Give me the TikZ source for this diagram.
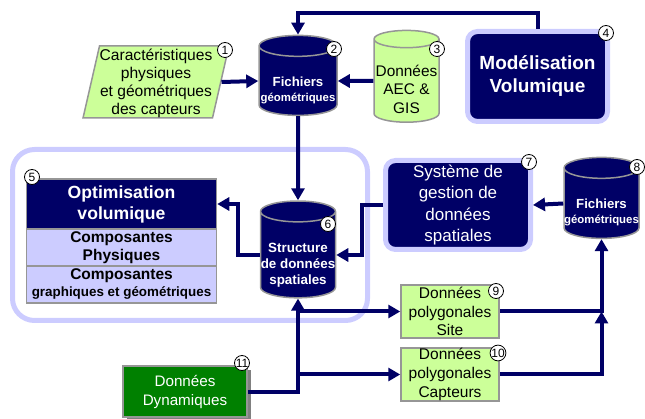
\documentclass[tikz,border=0pt]{standalone}
\usepackage{fontspec}
\setmainfont{Liberation Sans}
\usepackage{tikz}
\usetikzlibrary{shapes,arrows,arrows.meta,shadows,positioning,fit}

\definecolor{navy}{RGB}{0,0,102}
\definecolor{lavender}{RGB}{204,204,255}
\definecolor{lightgreen}{RGB}{204,255,153}
\definecolor{darkgreen}{RGB}{0,128,0}
\definecolor{bordergray}{RGB}{150,150,150}
\newcommand{\fsz}[2]{\fontsize{#1}{#2}\selectfont}
\newcommand{\lift}[1]{\rule{0pt}{#1}}

\begin{document}
\begin{tikzpicture}[x=1pt,y=-1pt]
		\tikzstyle{Link}	= [navy, line width=4pt, -{Triangle[length=12pt,width=13pt]}]
		\tikzstyle{Num}		= [circle, draw=black, fill=white, line width=0.8pt, minimum size=15pt, inner sep=0pt, font=\fsz{12}{12}]
		\tikzstyle{Store}	= [cylinder, shape border rotate=90, aspect=0.28, draw=bordergray, line width=1.5pt, align=center, inner sep=0pt]
		\tikzstyle{Sheet}	= [rectangle, draw=bordergray, line width=1.5pt, align=center, inner sep=0pt]
		\tikzstyle{Panel}	= [rectangle, rounded corners=10pt, draw=lavender, line width=5pt, fill=navy, text=white, align=center, inner sep=0pt]
		\tikzstyle{Dark}	= [fill=navy, text=white]
		\tikzstyle{Light}	= [fill=lightgreen, text=black]
		\tikzstyle{Lilac}	= [fill=lavender, text=black]
		
		\useasboundingbox (0,0) rectangle (645,419);
		
		\node (frame) at (190,235) [rectangle, rounded corners=22pt, draw=lavender, line width=5pt, minimum width=355pt, minimum height=171pt] {};
		
		\node (p1) at (156,82) [trapezium, trapezium left angle=77, trapezium right angle=103, trapezium stretches, draw=bordergray, line width=1.5pt, minimum width=146pt, minimum height=72pt, inner sep=0pt, align=center, font=\fsz{15.6}{18}][Light] {\lift{14pt}Caractéristiques\\physiques\\et géométriques\\des capteurs};
		\node (c2) at (298,81) [Store][Dark, minimum width=78pt, minimum height=80pt, font=\bfseries\fsz{13.2}{15}] {\lift{29pt}Fichiers\\{\fsz{11.4}{14}géométriques}};
		\node (c3) at (406.5,81) [Store][Light, minimum width=65pt, minimum height=80pt, font=\fsz{15.4}{18.5}] {\lift{28pt}Données\\AEC \&\\GIS};
		\node (m4) at (537.5,76.5) [Panel, minimum width=140pt, minimum height=90pt, font=\bfseries\fsz{19}{23}] {Modélisation\\Volumique};
		
		\node (opt) at (121.5,204) [Sheet][Dark, minimum width=190pt, minimum height=50pt, font=\bfseries\fsz{17.6}{21}] {Optimisation\\volumique};
		\node (phys) at (121.5,247.5) [Sheet][Lilac, minimum width=190pt, minimum height=37pt, font=\bfseries\fsz{15.5}{18}] {Composantes\\Physiques};
		\node (graph) at (121.5,284.5) [Sheet][Lilac, minimum width=190pt, minimum height=37pt, font=\bfseries\fsz{15.5}{17}] {Composantes\\{\fsz{13.4}{17}graphiques et géométriques}};
		
		\node (c6) at (298,255) [Store][Dark, minimum width=75pt, minimum height=78pt, font=\bfseries\fsz{13.4}{16}] {\lift{30pt}Structure\\de données\\spatiales};
		\node (s7) at (458,205) [Panel, minimum width=145pt, minimum height=89pt, font=\fsz{17}{21.5}] {Système de\\gestion de\\données\\spatiales};
		\node (c8) at (601.5,203.5) [Store][Dark, minimum width=75pt, minimum height=81pt, font=\bfseries\fsz{13.2}{15}] {\lift{28pt}Fichiers\\{\fsz{11.4}{14}géométriques}};
		
		\node (site) at (450,311.5) [Sheet][Light, minimum width=98pt, minimum height=53pt, font=\fsz{15.5}{18.7}] {Données\\polygonales\\Site};
		\node (capt) at (450,374.5) [Sheet][Light, minimum width=98pt, minimum height=53pt, font=\fsz{15.5}{18.7}] {Données\\polygonales\\Capteurs};
		\node (dyn) at (185,391.5) [Sheet, fill=darkgreen, text=white, minimum width=124pt, minimum height=51pt, font=\fsz{15.2}{19}, drop shadow={shadow xshift=4pt, shadow yshift=-4pt, fill=gray, opacity=1}] {Données\\Dynamiques};
		
		\coordinate (j1) at (c6.south |- site.west);
		\coordinate (j2) at (c6.south |- capt.west);
		\coordinate (j3) at (c8.south |- site.east);
		
		\draw [Link] (p1.east) -- (c2.west);
		\draw [Link] (c3.west) -- (c2.east);
		\draw [Link] (m4.north) -- ++(0,-16) -| (c2.north);
		\draw [Link] (c2.south) -- (c6.north);
		\draw [Link] (c6.west) -- ++(-22,0) |- (opt.east);
		\draw [Link] (s7.west) -- ++(-21,0) |- (c6.east);
		\draw [Link] (c8.west) -- (s7.east);
		\draw [Link] (dyn.east) -| (c6.south);
		\draw [Link] (j1) -- (site.west);
		\draw [Link] (j2) -- (capt.west);
		\draw [Link] (capt.east) -| (j3);
		\draw [Link] (site.east) -| (c8.south);
		
		\node (n1) at (225,50) [Num] {1};
		\node (n2) at (334,49) [Num] {2};
		\node (n3) at (437,49) [Num] {3};
		\node (n4) at (606,33) [Num] {4};
		\node (n5) at (32,177) [Num] {5};
		\node (n6) at (328,224) [Num] {6};
		\node (n7) at (529,162) [Num] {7};
		\node (n8) at (637,167) [Num] {8};
		\node (n9) at (496,291) [Num] {9};
		\node (n10) at (498,353) [Num] {10};
		\node (n11) at (242,363) [Num] {11};
	\end{tikzpicture}
\end{document}
